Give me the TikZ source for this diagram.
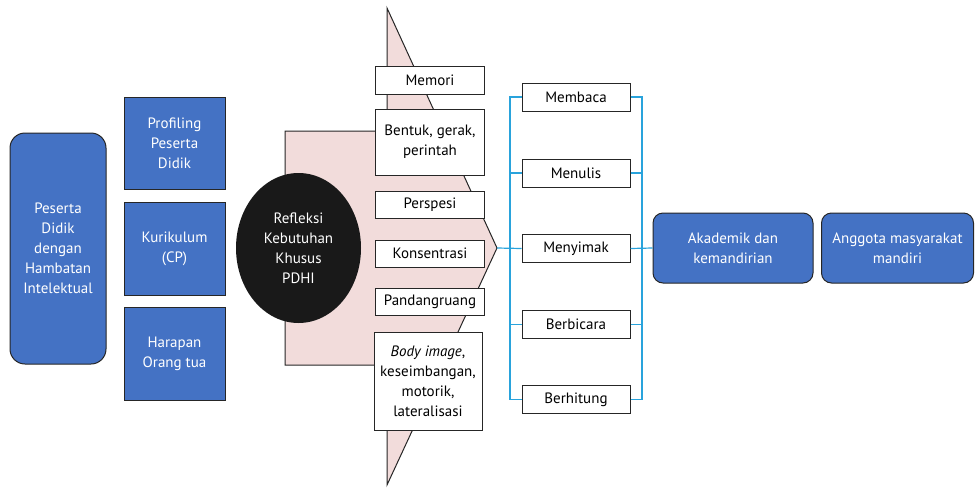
\documentclass[tikz,border=0pt]{standalone}
\usepackage{fontspec}
\setmainfont{PT Sans}
\usepackage{tikz}
\usetikzlibrary{shapes.geometric}

\definecolor{boxblue}{RGB}{68,114,196}
\definecolor{shapepink}{RGB}{242,220,219}
\definecolor{linkblue}{RGB}{41,163,220}
\definecolor{edgegray}{RGB}{38,38,38}

\tikzset{
  bluebox/.style={draw=edgegray, fill=boxblue, text=white, align=center,
    inner sep=0pt, line width=1pt},
  whitebox/.style={draw=edgegray, fill=white, align=center, inner sep=0pt,
    minimum width=109, minimum height=28, line width=1pt},
  bus/.style={draw=linkblue, line width=1.2pt}
}

\begin{document}
\begin{tikzpicture}[x=1pt, y=-1pt, font=\fontsize{15}{20}\selectfont]
    \useasboundingbox (0, 0) rectangle (975, 488);

    % pink arrow behind the list
    \draw[fill=shapepink, draw=edgegray, line width=1pt] (387, 8) -- (497, 248)
    -- (387, 485) -- (387, 365) -- (285, 365) -- (285, 131) -- (387, 131) -- cycle;
    \coordinate (tip) at (497, 248);

    % starting points
    \node[bluebox, rounded corners=15, minimum width=96, minimum height=231]
      (peserta) at (58, 248.5) {Peserta\\Didik\\dengan\\Hambatan\\Intelektual};
    \node[bluebox, minimum width=101, minimum height=92] (profiling)
      at (174.5, 143) {Profiling\\Peserta\\Didik};
    \node[bluebox, minimum width=101, minimum height=93] (kurikulum)
      at (174.5, 248.5) {Kurikulum\\(CP)};
    \node[bluebox, minimum width=101, minimum height=93] (harapan)
      at (174.5, 353.5) {Harapan\\Orang tua};

    % reflection
    \node[ellipse, fill=black!90, text=white, align=center, inner sep=0pt,
      minimum width=125, minimum height=150] (refleksi) at (298.5, 248)
      {Refleksi\\Kebutuhan\\Khusus\\PDHI};

    % needs
    \node[whitebox] (memori) at (430, 80) {Memori};
    \node[whitebox, minimum height=66] (bentuk) at (430, 142)
      {Bentuk, gerak,\\perintah};
    \node[whitebox, minimum height=27] (perspesi) at (430, 204.5) {Perspesi};
    \node[whitebox, minimum height=27] (konsentrasi) at (430, 253.5) {Konsentrasi};
    \node[whitebox, minimum height=27] (pandang) at (430, 301.5) {Pandangruang};
    \node[whitebox, minimum width=108, minimum height=98] (body) at (428, 381)
      {\textit{Body image},\\keseimbangan,\\motorik,\\lateralisasi};

    % skills
    \node[whitebox, minimum width=108] (membaca) at (576, 97) {Membaca};
    \node[whitebox, minimum width=108] (menulis) at (576, 173) {Menulis};
    \node[whitebox, minimum width=108] (menyimak) at (576, 248.5) {Menyimak};
    \node[whitebox, minimum width=108] (berbicara) at (576, 324.5) {Berbicara};
    \node[whitebox, minimum width=108] (berhitung) at (576, 399.5) {Berhitung};

    % goals
    \node[bluebox, rounded corners=10, minimum width=160, minimum height=70]
      (akademik) at (733, 248) {Akademik dan\\kemandirian};
    \node[bluebox, rounded corners=10, minimum width=152, minimum height=70]
      (anggota) at (897.5, 248) {Anggota masyarakat\\mandiri};

    % blue connectors
    \coordinate (busl) at (510, 248.5);
    \coordinate (busr) at (642, 248.5);
    \draw[bus] (tip) -- (menyimak.west);
    \draw[bus] (membaca.west) -| (busl);
    \draw[bus] (berhitung.west) -| (busl);
    \draw[bus] (menulis.west) -- (menulis.west -| busl);
    \draw[bus] (berbicara.west) -- (berbicara.west -| busl);
    \draw[bus] (menyimak.east) -- (akademik.west);
    \draw[bus] (membaca.east) -| (busr);
    \draw[bus] (berhitung.east) -| (busr);
    \draw[bus] (menulis.east) -- (menulis.east -| busr);
    \draw[bus] (berbicara.east) -- (berbicara.east -| busr);

  \end{tikzpicture}
\end{document}
